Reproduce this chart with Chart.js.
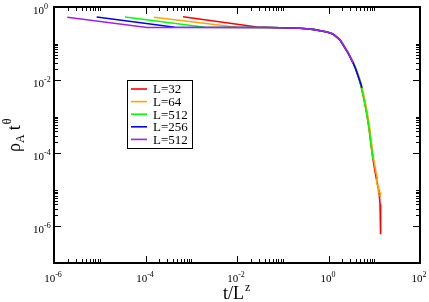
<!DOCTYPE html>
<html>
<head>
<meta charset="utf-8">
<script src="https://cdn.jsdelivr.net/npm/chart.js@4.4.0/dist/chart.umd.min.js"></script>
<style>
  body { margin: 0; background: #fff; }
</style>
</head>
<body>
<canvas id="plot" width="429" height="302"></canvas>
<script>
"use strict";

// scaled time t/L^z and rho_A t^theta
const red_t = [6.6e-4, 0.0274, 0.0526, 0.238, 0.458, 0.927, 1.25, 1.78, 2.67, 3.44, 3.99, 4.89, 5.68, 6.61, 7.67, 8.49, 9.40, 10.4, 11.5, 12.7, 13.4, 13.9, 13.6, 13.8];
const red_rho = [0.544, 0.285, 0.276, 0.263, 0.244, 0.208, 0.184, 0.126, 0.0558, 0.0298, 0.0192, 0.00904, 0.0040, 0.00156, 5.0e-4, 1.74e-4, 6.8e-5, 3.2e-5, 1.6e-5, 9.1e-6, 4.0e-6, 2.5e-6, 1.57e-6, 6.1e-7];

const orange_t = [1.53e-4, 0.0100, 0.0526, 0.240, 0.465, 0.945, 1.28, 1.83, 2.75, 3.55, 4.12, 5.05, 5.88, 6.85, 7.95, 8.80, 9.75, 10.8, 11.6, 11.2, 12.6, 12.2, 13.9, 13.3, 14.1];
const orange_rho = [0.524, 0.280, 0.276, 0.263, 0.244, 0.208, 0.184, 0.126, 0.0558, 0.0298, 0.0192, 0.00904, 0.0040, 0.00156, 5.0e-4, 1.74e-4, 6.8e-5, 3.2e-5, 2.2e-5, 1.5e-5, 1.2e-5, 9e-6, 8e-6, 7e-6, 6.6e-6];

const green_t = [3.56e-5, 2.0e-3, 0.0526, 0.238, 0.458, 0.927, 1.25, 1.78, 2.67, 3.44, 3.99, 4.89, 5.68, 6.61, 7.67, 8.49, 9.40];
const green_rho = [0.534, 0.280, 0.276, 0.263, 0.244, 0.208, 0.184, 0.126, 0.0558, 0.0298, 0.0192, 0.00904, 0.0040, 0.00156, 5.0e-4, 1.74e-4, 6.8e-5];

const blue_t = [8.57e-6, 4.4e-4, 0.0526, 0.238, 0.458, 0.927, 1.25, 1.78, 2.67, 3.44, 3.99, 4.89, 5.40];
const blue_rho = [0.534, 0.280, 0.276, 0.263, 0.244, 0.208, 0.184, 0.126, 0.0558, 0.0298, 0.0192, 0.00904, 0.0062];

const purple_t = [1.95e-6, 1.08e-4, 0.0526, 0.238, 0.458, 0.927, 1.25, 1.78, 2.67, 3.44];
const purple_rho = [0.524, 0.276, 0.276, 0.263, 0.244, 0.208, 0.184, 0.126, 0.0558, 0.0298];

const labels = ['L=32', 'L=64', 'L=512', 'L=256', 'L=512'];
const colors = ['#ff0000', '#ffa500', '#00ff00', '#0000ff', '#a020f0'];

// major ticks are every second decade
const xTickExp = [-6, -4, -2, 0, 2];
const yTickExp = [0, -2, -4, -6];

const serif = '"Liberation Serif", "DejaVu Serif", serif';

function pts(t, rho) {
  return t.map((v, i) => ({ x: v, y: rho[i] }));
}

const series = [
  pts(red_t, red_rho),
  pts(orange_t, orange_rho),
  pts(green_t, green_rho),
  pts(blue_t, blue_rho),
  pts(purple_t, purple_rho)
];

// "10" with a raised exponent
function powText(ctx, exp, x, y, align) {
  ctx.font = '11px ' + serif;
  const w1 = ctx.measureText('10').width;
  ctx.font = '8px ' + serif;
  const w2 = ctx.measureText(String(exp)).width;
  let x0 = x;
  if (align === 'center') x0 = x - (w1 + w2) / 2;
  ctx.textAlign = 'left';
  ctx.textBaseline = 'alphabetic';
  ctx.font = '11px ' + serif;
  ctx.fillText('10', x0, y);
  ctx.font = '8px ' + serif;
  ctx.fillText(String(exp), x0 + w1, y - 5);
}

function tick(ctx, x1, y1, x2, y2) {
  ctx.beginPath();
  ctx.moveTo(x1, y1);
  ctx.lineTo(x2, y2);
  ctx.stroke();
}

const frame = {
  id: 'frame',
  afterDraw(chart) {
    const ctx = chart.ctx;
    const a = chart.chartArea;
    const xs = chart.scales.x;
    const ys = chart.scales.y;
    ctx.save();
    ctx.strokeStyle = '#000';
    ctx.fillStyle = '#000';
    ctx.lineWidth = 1;

    // x ticks, bottom and top, pointing inwards
    xTickExp.forEach((e) => {
      const px = Math.round(xs.getPixelForValue(Math.pow(10, e))) + 0.5;
      tick(ctx, px, a.bottom, px, a.bottom - 7);
      tick(ctx, px, a.top, px, a.top + 7);
      powText(ctx, e, px - 1.5, a.bottom + 19, 'center');
      if (e >= 2) return;
      for (let k = 2; k <= 10; k++) {
        const m = Math.round(xs.getPixelForValue(k * Math.pow(10, e))) + 0.5;
        tick(ctx, m, a.bottom, m, a.bottom - 4);
        tick(ctx, m, a.top, m, a.top + 4);
      }
    });

    // y ticks, left and right
    yTickExp.forEach((e) => {
      const py = Math.round(ys.getPixelForValue(Math.pow(10, e))) + 0.5;
      tick(ctx, a.left, py, a.left + 7, py);
      tick(ctx, a.right, py, a.right - 7, py);
      powText(ctx, e, 33, py + 6, 'left');
      if (e >= 0) return;
      for (let k = 2; k <= 10; k++) {
        const m = Math.round(ys.getPixelForValue(k * Math.pow(10, e))) + 0.5;
        tick(ctx, a.left, m, a.left + 4, m);
        tick(ctx, a.right, m, a.right - 4, m);
      }
    });

    // box around the plot
    ctx.lineWidth = 2;
    ctx.strokeRect(a.left, a.top, a.right - a.left, a.bottom - a.top);

    // axis titles
    ctx.textAlign = 'left';
    ctx.textBaseline = 'alphabetic';
    ctx.font = '18px ' + serif;
    ctx.fillText('t/L', 223, 299);
    const wt = ctx.measureText('t/L').width;
    ctx.font = '12px ' + serif;
    ctx.fillText('z', 223 + wt + 1, 291);

    ctx.save();
    ctx.translate(20, 152);
    ctx.rotate(-Math.PI / 2);
    let x = 0;
    ctx.font = '18px ' + serif;
    ctx.fillText('\u03c1', x, 0);
    x += ctx.measureText('\u03c1').width;
    ctx.font = '12px ' + serif;
    ctx.fillText('A', x, 4);
    x += ctx.measureText('A').width + 4;
    ctx.font = '18px ' + serif;
    ctx.fillText('t', x, 0);
    x += ctx.measureText('t').width + 1;
    ctx.font = '12px ' + serif;
    ctx.fillText('\u03b8', x, -9);
    ctx.restore();

    // legend box
    ctx.lineWidth = 1;
    ctx.fillStyle = '#fff';
    ctx.fillRect(127.5, 80.5, 65, 68);
    ctx.strokeRect(127.5, 80.5, 65, 68);
    ctx.font = '13px ' + serif;
    ctx.textBaseline = 'middle';
    chart.data.datasets.forEach((ds, i) => {
      const y = 89 + i * 12.6;
      ctx.strokeStyle = ds.borderColor;
      ctx.lineWidth = 1.6;
      tick(ctx, 131, y, 147, y);
      ctx.fillStyle = '#000';
      ctx.fillText(ds.label, 153, y + 1);
    });
    ctx.restore();
  }
};

const ctx = document.querySelector('#plot').getContext('2d');

const chart = new Chart(ctx, {
  type: 'line',
  data: {
    datasets: series.map((d, i) => ({
      label: labels[i],
      data: d,
      borderColor: colors[i],
      backgroundColor: colors[i],
      borderWidth: 1.6,
      pointRadius: 0,
      tension: 0,
      fill: false,
      order: 5 - i
    }))
  },
  options: {
    responsive: false,
    animation: false,
    devicePixelRatio: 1,
    layout: { padding: { top: 7, right: 9, left: 0, bottom: 0 } },
    plugins: {
      legend: { display: false },
      tooltip: { enabled: false }
    },
    scales: {
      x: {
        type: 'logarithmic',
        min: 1e-6,
        max: 1e2,
        grid: { display: false, drawTicks: false },
        border: { display: false },
        ticks: { display: false },
        afterFit(scale) { scale.height = 39; }
      },
      y: {
        type: 'logarithmic',
        min: 1e-7,
        max: 1,
        grid: { display: false, drawTicks: false },
        border: { display: false },
        ticks: { display: false },
        afterFit(scale) { scale.width = 54; }
      }
    }
  },
  plugins: [frame]
});
</script>
</body>
</html>
